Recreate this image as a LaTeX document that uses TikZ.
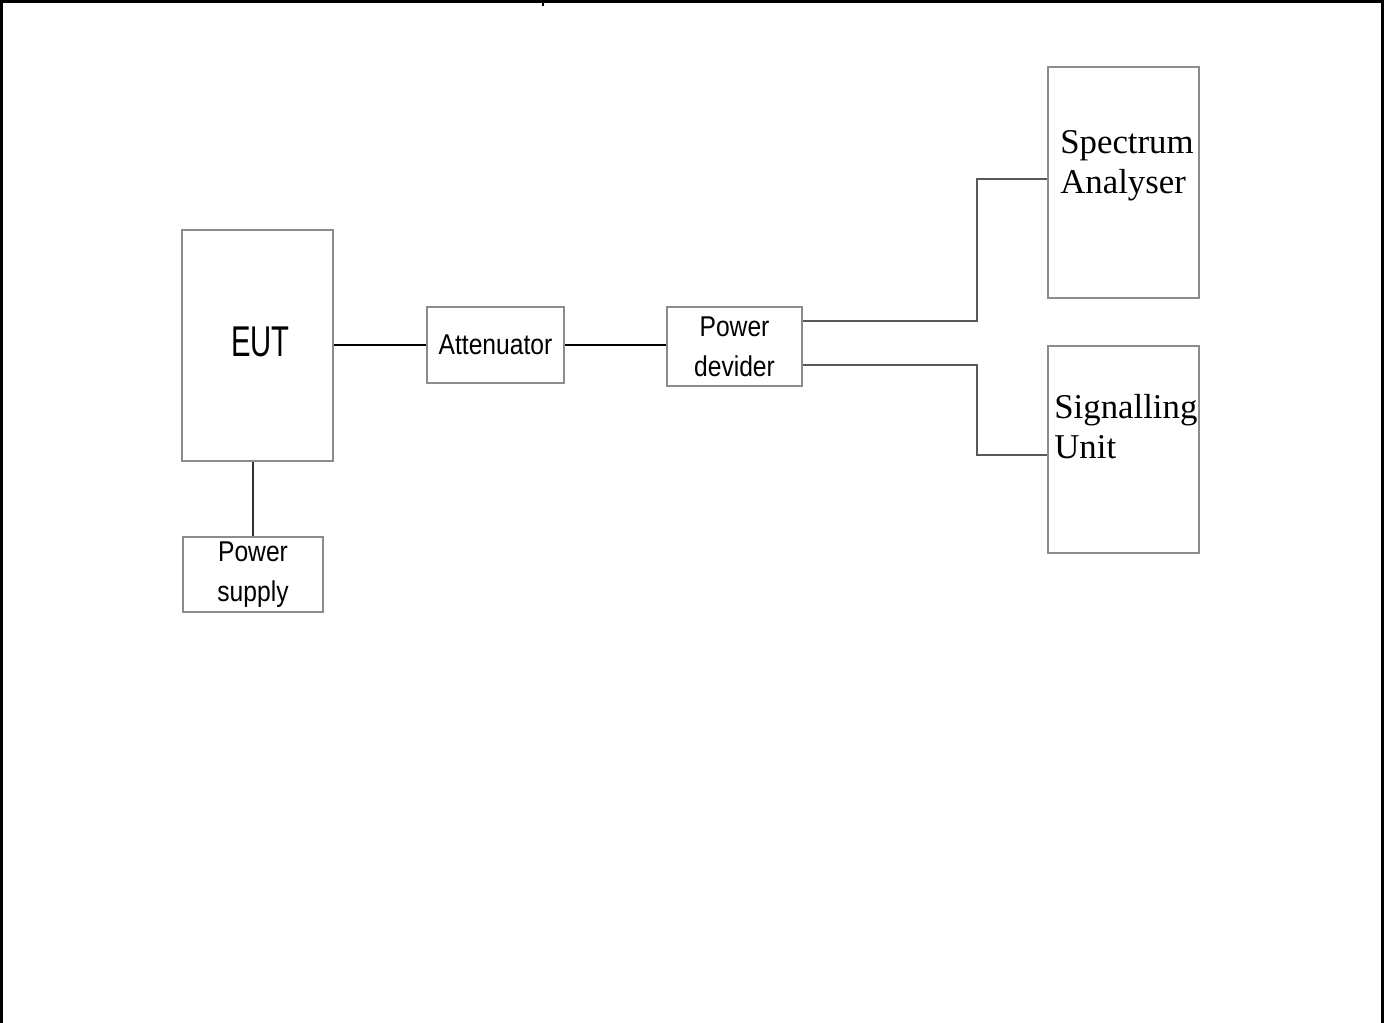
\documentclass[tikz,border=0pt]{standalone}
\usepackage{fontspec}
\setmainfont{Liberation Serif}
\newfontfamily\boxsans[FakeStretch=0.86]{Liberation Sans}
\newfontfamily\eutsans[FakeStretch=0.68]{Liberation Sans}

\begin{document}
\begin{tikzpicture}[
  x=0.02cm,y=-0.02cm,
  unit/.style={draw=black!45,line width=1.1pt,inner sep=0pt},
  sanstext/.style={font=\boxsans\fontsize{16.3}{22.8}\selectfont,align=center},
  seriftext/.style={font=\fontsize{19.8}{22.8}\selectfont,align=left,
    inner sep=0pt,anchor=north west},
  link/.style={draw=black,line width=1.7pt},
  greylink/.style={draw=black!65,line width=1.4pt}
]
  \useasboundingbox (0,0) rectangle (1386,1023);
  % page frame
  \draw[line width=1.7pt] (1.5,1023) -- (1.5,1.5) -- (1382.5,1.5) -- (1382.5,1023);
  \draw[line width=1pt] (543,0) -- (543,6);
  % units
  \node[unit,minimum width=3.02cm,minimum height=4.62cm,
    font=\eutsans\fontsize{24.5}{24.5}\selectfont,text depth=0.16cm] (eut) at (257.5,345.5) {\hspace*{0.12cm}EUT};
  \node[unit,sanstext,minimum width=2.74cm,minimum height=1.52cm]
    (att) at (495.5,345) {Attenuator};
  \node[unit,sanstext,minimum width=2.70cm,minimum height=1.58cm]
    (pd) at (734.5,346.5) {Power\\devider};
  \node[unit,sanstext,minimum width=2.80cm,minimum height=1.50cm]
    (ps) at (253,574.5) {Power\\supply};
  \node[unit,minimum width=3.02cm,minimum height=4.62cm] (sa) at (1123.5,182.5) {};
  \node[unit,minimum width=3.02cm,minimum height=4.14cm] (su) at (1123.5,449.5) {};
  \node[seriftext] (satext) at (1060,130) {Spectrum\\Analyser};
  \node[seriftext] (sutext) at (1054,394) {Signalling\\Unit};
  % cables
  \coordinate (bendA) at (977,321);
  \coordinate (bendB) at (977,365);
  \draw[link] (eut.east |- att.west) -- (att.west);
  \draw[link] (att.east) -- (att.east -| pd.west);
  \draw[greylink] (pd.east |- bendA) -- (bendA) |- ([yshift=0.07cm]sa.west);
  \draw[greylink,line width=1.1pt] (pd.east |- bendB) -- (bendB) |- ([yshift=-0.11cm]su.west);
  \draw[draw=black!80,line width=1.1pt] (ps.north |- eut.south) -- (ps.north);
\end{tikzpicture}
\end{document}
